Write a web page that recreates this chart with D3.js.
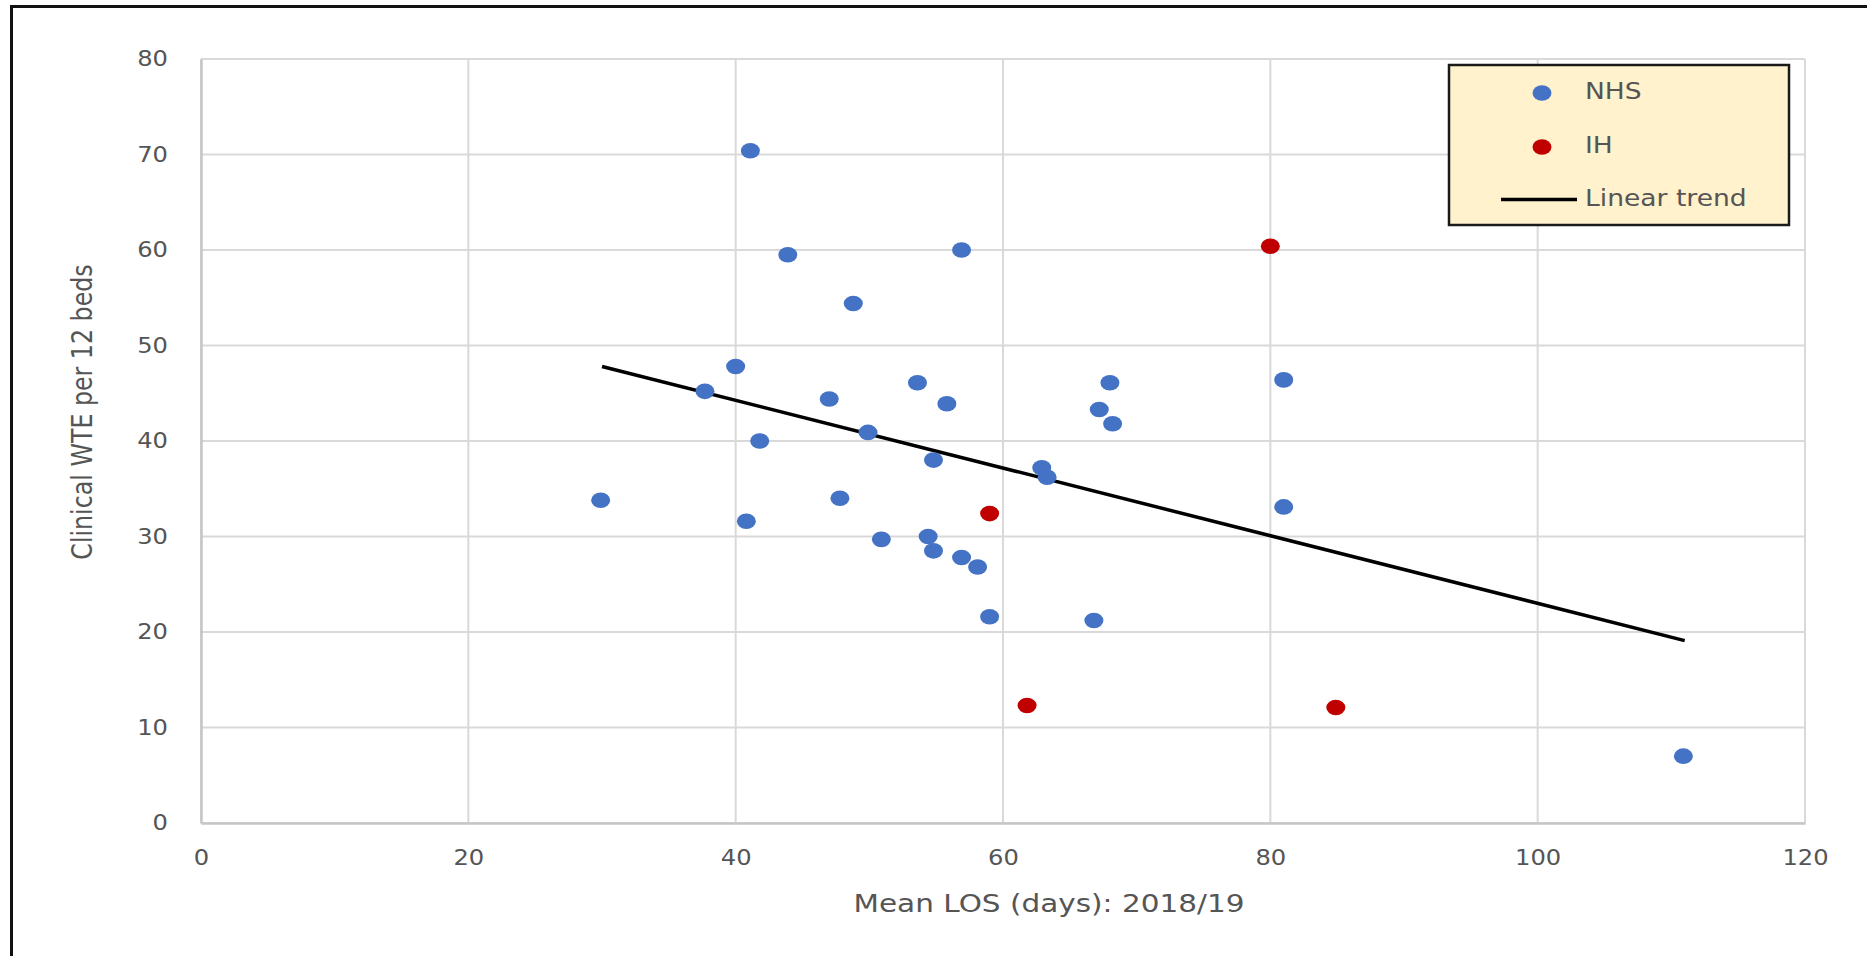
<!DOCTYPE html>
<html>
<head>
<meta charset="utf-8">
<script src="https://cdn.jsdelivr.net/npm/d3@7"></script>
<style>
  html, body { margin: 0; padding: 0; background: #fff; }
  svg { display: block; font-family: "DejaVu Sans", Verdana, sans-serif; }
</style>
</head>
<body>
<div id="chart"></div>
<script>
// values
var nhsX = [29.9, 37.7, 40.0, 40.8, 41.1, 41.8, 43.9, 47.0, 47.8, 48.8, 49.9, 50.9, 53.6, 54.4, 54.8,
            54.8, 55.8, 56.9, 56.9, 58.1, 59.0, 62.9, 63.3, 66.8, 67.2, 68.0, 68.2, 81.0, 81.0, 110.9];
var nhsY = [33.8, 45.2, 47.8, 31.6, 70.4, 40.0, 59.5, 44.4, 34.0, 54.4, 40.9, 29.7, 46.1, 30.0, 38.0,
            28.5, 43.9, 60.0, 27.8, 26.8, 21.6, 37.2, 36.2, 21.2, 43.3, 46.1, 41.8, 46.4, 33.1, 7.0];
var ihX = [59.0, 61.8, 80.0, 84.9];
var ihY = [32.4, 12.3, 60.4, 12.1];
var trendX = [30, 111];
var trendY = [47.8, 19.1];
var xTicks = [0, 20, 40, 60, 80, 100, 120];
var yTicks = [0, 10, 20, 30, 40, 50, 60, 70, 80];
var seriesNames = ["NHS", "IH", "Linear trend"];

var W = 1867, H = 956;
var margin = {top: 59, right: 62, bottom: 133, left: 201},
    width = W - margin.left - margin.right,
    height = H - margin.top - margin.bottom;
var stretchK = 1.18;   // the original picture is a bit wider than tall
var textCol = "#555";

var svg = d3.select("#chart").append("svg")
  .attr("width", W)
  .attr("height", H);

// outer frame (right and bottom edges run off the picture)
svg.append("rect")
  .attr("x", 11.5).attr("y", 6.5)
  .attr("width", W + 20).attr("height", H + 20)
  .attr("fill", "none")
  .attr("stroke", "#111")
  .attr("stroke-width", 3);

var g = svg.append("g")
  .attr("transform", "translate(" + margin.left + "," + margin.top + ")");

var x = d3.scaleLinear().domain([0, 120]).range([0, width]);
var y = d3.scaleLinear().domain([0, 80]).range([height, 0]);

function stretch(sel, k) {
  sel.each(function() {
    var w = this.getComputedTextLength();
    d3.select(this).attr("textLength", w * k).attr("lengthAdjust", "spacingAndGlyphs");
  });
}

// grid
g.selectAll(".vgrid")
  .data(xTicks)
  .enter().append("line")
    .attr("class", "vgrid")
    .attr("x1", function(d) { return x(d); })
    .attr("x2", function(d) { return x(d); })
    .attr("y1", 0).attr("y2", height)
    .attr("stroke", "#d9d9d9")
    .attr("stroke-width", 2);

g.selectAll(".hgrid")
  .data(yTicks)
  .enter().append("line")
    .attr("class", "hgrid")
    .attr("x1", 0).attr("x2", width)
    .attr("y1", function(d) { return y(d); })
    .attr("y2", function(d) { return y(d); })
    .attr("stroke", "#d9d9d9")
    .attr("stroke-width", 2);

// axes
var xAxis = g.append("g")
  .attr("transform", "translate(0," + height + ")")
  .call(d3.axisBottom(x).tickValues(xTicks).tickSize(0).tickPadding(27));
xAxis.select(".domain").attr("stroke", "#c6c6c6").attr("stroke-width", 2.5);
xAxis.selectAll("text")
  .attr("fill", textCol)
  .style("font-size", "20.5px")
  .style("font-family", "DejaVu Sans");
stretch(xAxis.selectAll("text"), stretchK);

var yAxis = g.append("g")
  .call(d3.axisLeft(y).tickValues(yTicks).tickSize(0).tickPadding(33));
yAxis.select(".domain").attr("stroke", "#c6c6c6").attr("stroke-width", 2.5);
yAxis.selectAll("text")
  .attr("fill", textCol)
  .style("font-size", "20.5px")
  .style("font-family", "DejaVu Sans");
stretch(yAxis.selectAll("text"), stretchK);

// axis titles
var xTitle = svg.append("text")
  .attr("x", 1049)
  .attr("y", 912)
  .attr("text-anchor", "middle")
  .attr("fill", textCol)
  .style("font-size", "25px")
  .text("Mean LOS (days): 2018/19");
stretch(xTitle, stretchK);

var yTitle = svg.append("text")
  .attr("transform", "translate(92,412) rotate(-90)")
  .attr("text-anchor", "middle")
  .attr("fill", textCol)
  .style("font-size", "28px")
  .text("Clinical WTE per 12 beds");
stretch(yTitle, 1 / stretchK);

// trend line
var line = d3.line()
  .x(function(d) { return x(d[0]); })
  .y(function(d) { return y(d[1]); });

g.append("path")
  .datum(d3.zip(trendX, trendY))
  .attr("d", line)
  .attr("fill", "none")
  .attr("stroke", "#000")
  .attr("stroke-width", 3.5);

// points
var rx = 9.5, ry = 7.8;
g.selectAll(".nhs")
  .data(d3.zip(nhsX, nhsY))
  .enter().append("ellipse")
    .attr("class", "nhs")
    .attr("cx", function(d) { return x(d[0]); })
    .attr("cy", function(d) { return y(d[1]); })
    .attr("rx", rx).attr("ry", ry)
    .attr("fill", "#4472c4");

g.selectAll(".ih")
  .data(d3.zip(ihX, ihY))
  .enter().append("ellipse")
    .attr("class", "ih")
    .attr("cx", function(d) { return x(d[0]); })
    .attr("cy", function(d) { return y(d[1]); })
    .attr("rx", rx).attr("ry", ry)
    .attr("fill", "#c00000");

// legend
var legend = svg.append("g").attr("transform", "translate(1449,65)");
legend.append("rect")
  .attr("width", 340).attr("height", 160)
  .attr("fill", "#fff2cc")
  .attr("stroke", "#1a1a1a")
  .attr("stroke-width", 2.5);

var rows = legend.selectAll(".row")
  .data(seriesNames)
  .enter().append("g")
    .attr("class", "row")
    .attr("transform", function(d, i) { return "translate(0," + (28 + i * 54) + ")"; });

rows.filter(function(d, i) { return i < 2; })
  .append("ellipse")
    .attr("cx", 93).attr("cy", 0)
    .attr("rx", rx).attr("ry", ry)
    .attr("fill", function(d, i) { return i === 0 ? "#4472c4" : "#c00000"; });

rows.filter(function(d, i) { return i === 2; })
  .append("line")
    .attr("x1", 52).attr("x2", 128)
    .attr("y1", -1.5).attr("y2", -1.5)
    .attr("stroke", "#000")
    .attr("stroke-width", 3.5);

var ltext = rows.append("text")
  .attr("x", 136)
  .attr("y", function(d, i) { return i === 2 ? 4.5 : 6; })
  .attr("fill", textCol)
  .style("font-size", "22.5px")
  .text(function(d) { return d; });
stretch(ltext, stretchK);
</script>
</body>
</html>
